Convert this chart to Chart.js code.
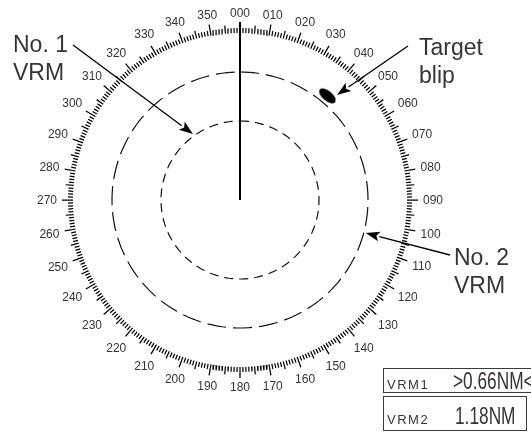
<!DOCTYPE html>
<html>
<head>
<meta charset="utf-8">
<script src="https://cdn.jsdelivr.net/npm/chart.js@4/dist/chart.umd.min.js"></script>
<style>
html, body { margin: 0; padding: 0; background: #fff; }
#wrap { width: 531px; height: 438px; }
</style>
</head>
<body>
<div id="wrap"><canvas id="radar" width="531" height="438"></canvas></div>
<script>
// --- bearing ring (degrees) ---
const labelBearings = [0, 10, 20, 30, 40, 50, 60, 70, 80, 90, 100, 110, 120, 130, 140, 150, 160, 170,
  180, 190, 200, 210, 220, 230, 240, 250, 260, 270, 280, 290, 300, 310, 320, 330, 340, 350];
const bearingLabels = ["000", "010", "020", "030", "040", "050", "060", "070", "080", "090", "100", "110",
  "120", "130", "140", "150", "160", "170", "180", "190", "200", "210", "220", "230", "240", "250", "260",
  "270", "280", "290", "300", "310", "320", "330", "340", "350"];

// --- VRMs: scope radius (1 unit = 100 px) and readout ---
const vrmNames = ["VRM1", "VRM2"];
const vrmRanges = [0.79, 1.28];
const vrmReadouts = [">0.66NM<", "1.18NM"];

// --- target ---
const targetBearings = [40];
const targetRanges = [1.36];

const ringRange = 1.67;
const headingBearing = 0;

const INK = "#3a3238";

function polar(b, r) {
  const a = b * Math.PI / 180;
  return { x: r * Math.sin(a), y: r * Math.cos(a) };
}

// tick marks every degree, NaN point breaks the line between ticks
const gap = { x: NaN, y: NaN };
const tickData = [];
for (let d = 0; d < 360; d++) {
  const len = d % 10 === 0 ? 0.11 : (d % 5 === 0 ? 0.08 : 0.05);
  tickData.push(polar(d, ringRange), polar(d, ringRange + len), gap);
}

function circle(r) {
  const pts = [];
  for (let d = 0; d <= 360; d += 2) pts.push(polar(d, r));
  return pts;
}

// blip drawn as an elongated echo
const blip = document.createElement("canvas");
blip.width = 28; blip.height = 28;
(function () {
  const c = blip.getContext("2d");
  c.translate(14, 14);
  c.rotate(targetBearings[0] * Math.PI / 180);
  c.fillStyle = "#000";
  c.beginPath();
  c.ellipse(0, 0, 10, 5, 0, 0, Math.PI * 2);
  c.fill();
})();

const callouts = [
  { lines: ["No. 1", "VRM"], tx: -2.27, ty: 1.48, tail: { x: -1.67, y: 1.55 }, tip: polar(324.5, 0.81) },
  { lines: ["Target", "blip"], tx: 1.79, ty: 1.45, tail: { x: 1.68, y: 1.54 }, tip: polar(42.7, 1.43) },
  { lines: ["No. 2", "VRM"], tx: 2.14, ty: -0.65, tail: { x: 2.10, y: -0.55 }, tip: polar(104.7, 1.30) }
];

const scopeText = {
  id: "scopeText",
  afterDatasetsDraw(chart) {
    const { ctx, scales: { x, y } } = chart;
    const px = v => x.getPixelForValue(v);
    const py = v => y.getPixelForValue(v);
    const cx = px(0), cy = py(0);
    ctx.save();

    // bearing labels
    ctx.font = "12px 'Liberation Sans', Arial, sans-serif";
    ctx.fillStyle = INK;
    ctx.textAlign = "center";
    ctx.textBaseline = "middle";
    labelBearings.forEach((b, i) => {
      const a = b * Math.PI / 180;
      const hw = ctx.measureText(bearingLabels[i]).width / 2;
      const r = 183 + hw * Math.abs(Math.sin(a)) + 4 * Math.abs(Math.cos(a));
      ctx.fillText(bearingLabels[i], cx + r * Math.sin(a), cy - r * Math.cos(a) + 1);
    });

    // callouts
    ctx.strokeStyle = "#000";
    ctx.fillStyle = "#000";
    ctx.lineWidth = 1.3;
    callouts.forEach(c => {
      const x0 = px(c.tail.x), y0 = py(c.tail.y);
      const x1 = px(c.tip.x), y1 = py(c.tip.y);
      const ang = Math.atan2(y1 - y0, x1 - x0);
      const L = 14, W = 5;
      const bx = x1 - L * Math.cos(ang), by = y1 - L * Math.sin(ang);
      ctx.beginPath();
      ctx.moveTo(x0, y0);
      ctx.lineTo(bx, by);
      ctx.stroke();
      ctx.beginPath();
      ctx.moveTo(x1, y1);
      ctx.lineTo(bx + W * Math.sin(ang), by - W * Math.cos(ang));
      ctx.lineTo(bx + 3 * Math.cos(ang), by + 3 * Math.sin(ang));
      ctx.lineTo(bx - W * Math.sin(ang), by + W * Math.cos(ang));
      ctx.closePath();
      ctx.fill();
    });
    ctx.fillStyle = INK;
    ctx.font = "23px 'Liberation Sans', Arial, sans-serif";
    ctx.textAlign = "left";
    ctx.textBaseline = "alphabetic";
    callouts.forEach(c => {
      c.lines.forEach((t, j) => ctx.fillText(t, px(c.tx), py(c.ty) + j * 28));
    });

    // readout boxes
    const boxes = [
      { top: 368, bottom: 392, right: 540, base: 389 },
      { top: 396, bottom: 430, right: 526, base: 424 }
    ];
    ctx.strokeStyle = "#3a3a3a";
    ctx.lineWidth = 1;
    boxes.forEach((bx, i) => {
      ctx.strokeRect(383.5, bx.top + 0.5, bx.right - 383, bx.bottom - bx.top);
      ctx.font = "13px 'Liberation Sans', Arial, sans-serif";
      ctx.letterSpacing = "1.5px";
      ctx.fillText(vrmNames[i], 387, bx.base);
      ctx.letterSpacing = "0px";
      // condensed readout figures
      ctx.save();
      ctx.translate(i === 0 ? 453 : 455, bx.base);
      ctx.scale(0.72, 1);
      ctx.font = "24px 'Liberation Sans', Arial, sans-serif";
      ctx.fillText(vrmReadouts[i], 0, 0);
      ctx.restore();
    });
    ctx.restore();
  }
};

const lineDs = (data, extra) => Object.assign({
  data, showLine: true, pointRadius: 0, borderColor: "#111", borderWidth: 1,
  spanGaps: false, clip: false
}, extra);

new Chart(document.getElementById("radar"), {
  type: "scatter",
  data: {
    datasets: [
      lineDs(tickData, { borderWidth: 1.25, borderColor: "#000" }),
      lineDs([polar(headingBearing, 0), polar(headingBearing, ringRange + 0.11)], { borderWidth: 2, borderColor: "#000" }),
      lineDs(circle(vrmRanges[0]), { borderWidth: 1.2, borderDash: [9, 6] }),
      lineDs(circle(vrmRanges[1]), { borderWidth: 1.2, borderDash: [19, 7] }),
      {
        data: targetBearings.map((b, i) => polar(b, targetRanges[i])),
        pointStyle: blip, pointRadius: 10, clip: false
      }
    ]
  },
  options: {
    responsive: false,
    animation: false,
    events: [],
    layout: { padding: 0, autoPadding: false },
    plugins: { legend: { display: false }, tooltip: { enabled: false } },
    scales: {
      x: { type: "linear", display: false, min: -2.40, max: 2.91 },
      y: { type: "linear", display: false, min: -2.38, max: 2.00 }
    }
  },
  plugins: [scopeText]
});
</script>
</body>
</html>
